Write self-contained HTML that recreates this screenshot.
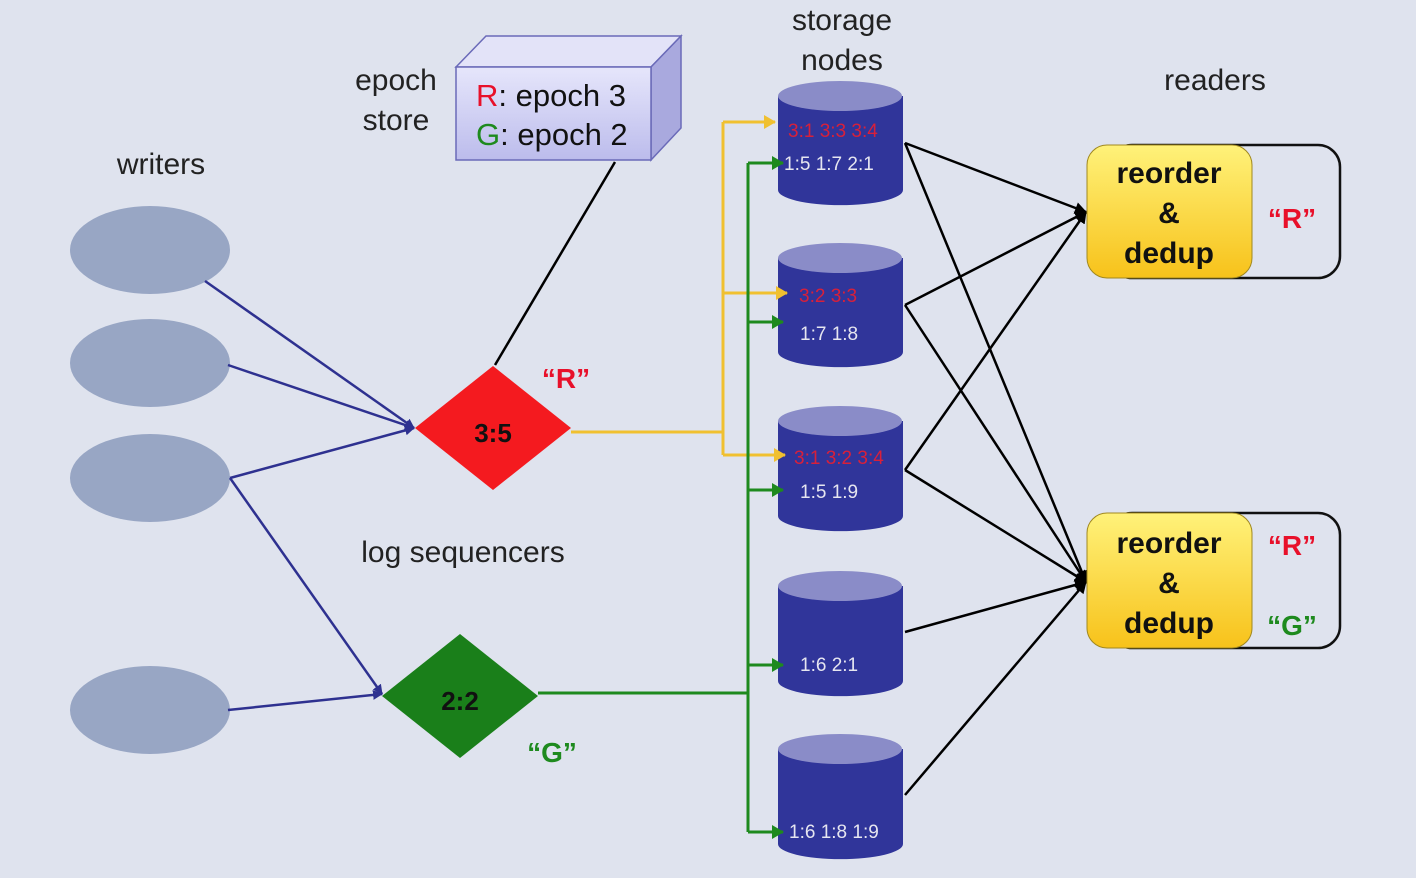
<!DOCTYPE html>
<html><head><meta charset="utf-8"><style>
html,body{margin:0;padding:0;background:#dfe3ee;}
svg{display:block;font-family:"Liberation Sans",sans-serif;}
</style></head><body>
<svg width="1416" height="878" viewBox="0 0 1416 878" xmlns="http://www.w3.org/2000/svg">
<defs>
<linearGradient id="yg" x1="0" y1="0" x2="0" y2="1"><stop offset="0" stop-color="#fff27a"/><stop offset="1" stop-color="#f7c21a"/></linearGradient>
<linearGradient id="bg" x1="0" y1="0" x2="0" y2="1"><stop offset="0" stop-color="#e6e6fb"/><stop offset="1" stop-color="#bcbcec"/></linearGradient>
<marker id="ab" markerWidth="10" markerHeight="10" refX="9" refY="5" orient="auto" markerUnits="userSpaceOnUse"><path d="M0,0 L10,5 L0,10z" fill="#2e3190"/></marker>
<marker id="ay" markerWidth="12" markerHeight="14" refX="11" refY="7" orient="auto" markerUnits="userSpaceOnUse"><path d="M0,0 L12,7 L0,14z" fill="#f0c030"/></marker>
<marker id="ag" markerWidth="12" markerHeight="14" refX="11" refY="7" orient="auto" markerUnits="userSpaceOnUse"><path d="M0,0 L12,7 L0,14z" fill="#1e8a1e"/></marker>
<marker id="ak" markerWidth="12" markerHeight="12" refX="11" refY="6" orient="auto" markerUnits="userSpaceOnUse"><path d="M0,0 L12,6 L0,12z" fill="#000"/></marker>
</defs>
<rect width="1416" height="878" fill="#dfe3ee"/>

<g font-size="30" fill="#222" text-anchor="middle">
<text x="161" y="174">writers</text>
<text x="396" y="90">epoch</text>
<text x="396" y="130">store</text>
<text x="842" y="30">storage</text>
<text x="842" y="70">nodes</text>
<text x="1215" y="90">readers</text>
<text x="463" y="562">log sequencers</text>
</g>

<g fill="#98a6c4">
<ellipse cx="150" cy="250" rx="80" ry="44"/>
<ellipse cx="150" cy="363" rx="80" ry="44"/>
<ellipse cx="150" cy="478" rx="80" ry="44"/>
<ellipse cx="150" cy="710" rx="80" ry="44"/>
</g>
<g stroke="#2e3190" stroke-width="2.5" fill="none">
<line x1="205" y1="281" x2="414" y2="428" marker-end="url(#ab)"/>
<line x1="228" y1="365" x2="414" y2="428" marker-end="url(#ab)"/>
<line x1="230" y1="478" x2="414" y2="428" marker-end="url(#ab)"/>
<line x1="230" y1="478" x2="382" y2="694" marker-end="url(#ab)"/>
<line x1="228" y1="710" x2="382" y2="694" marker-end="url(#ab)"/>
</g>

<line x1="615" y1="162" x2="495" y2="365" stroke="#000" stroke-width="2.5"/>
<polygon points="456,67 486,36 681,36 651,67" fill="#e3e3f8" stroke="#6a6ab8" stroke-width="1.5"/>
<polygon points="651,67 681,36 681,128 651,160" fill="#a9a9de" stroke="#6a6ab8" stroke-width="1.5"/>
<rect x="456" y="67" width="195" height="93" fill="url(#bg)" stroke="#6a6ab8" stroke-width="1.5"/>
<g font-size="31" fill="#111">
<text x="476" y="106"><tspan fill="#e8102a">R</tspan>: epoch 3</text>
<text x="476" y="145"><tspan fill="#1e8a1e">G</tspan>: epoch 2</text>
</g>

<polygon points="415,428 493,366 571,428 493,490" fill="#f41a1f"/>
<text x="493" y="442" font-size="26" font-weight="bold" text-anchor="middle" fill="#111">3:5</text>
<text x="566" y="388" font-size="28" font-weight="bold" text-anchor="middle" fill="#e8102a">“R”</text>
<polygon points="382,696 460,634 538,696 460,758" fill="#1a7f1a"/>
<text x="460" y="710" font-size="26" font-weight="bold" text-anchor="middle" fill="#111">2:2</text>
<text x="552" y="762" font-size="28" font-weight="bold" text-anchor="middle" fill="#1e8a1e">“G”</text>

<g stroke="#000" stroke-width="2.5" fill="none">
<line x1="905" y1="143" x2="1086" y2="212" marker-end="url(#ak)"/>
<line x1="905" y1="143" x2="1086" y2="582" marker-end="url(#ak)"/>
<line x1="905" y1="305" x2="1086" y2="212" marker-end="url(#ak)"/>
<line x1="905" y1="305" x2="1086" y2="582" marker-end="url(#ak)"/>
<line x1="905" y1="470" x2="1086" y2="212" marker-end="url(#ak)"/>
<line x1="905" y1="470" x2="1086" y2="582" marker-end="url(#ak)"/>
<line x1="905" y1="632" x2="1086" y2="582" marker-end="url(#ak)"/>
<line x1="905" y1="795" x2="1086" y2="582" marker-end="url(#ak)"/>
</g>

<g>
<path d="M778,96 L778,190 A62,15 0 0 0 903,190 L903,96z" fill="#30359a"/><ellipse cx="840" cy="96" rx="62" ry="15" fill="#8a8cc8"/>
<path d="M778,258 L778,352 A62,15 0 0 0 903,352 L903,258z" fill="#30359a"/><ellipse cx="840" cy="258" rx="62" ry="15" fill="#8a8cc8"/>
<path d="M778,421 L778,516 A62,15 0 0 0 903,516 L903,421z" fill="#30359a"/><ellipse cx="840" cy="421" rx="62" ry="15" fill="#8a8cc8"/>
<path d="M778,586 L778,681 A62,15 0 0 0 903,681 L903,586z" fill="#30359a"/><ellipse cx="840" cy="586" rx="62" ry="15" fill="#8a8cc8"/>
<path d="M778,749 L778,844 A62,15 0 0 0 903,844 L903,749z" fill="#30359a"/><ellipse cx="840" cy="749" rx="62" ry="15" fill="#8a8cc8"/>
</g>

<g stroke="#f0c030" stroke-width="3" fill="none">
<polyline points="571,432 723,432"/>
<line x1="723" y1="122" x2="723" y2="455"/>
<line x1="723" y1="122" x2="775" y2="122" marker-end="url(#ay)"/>
<line x1="723" y1="293" x2="787" y2="293" marker-end="url(#ay)"/>
<line x1="723" y1="455" x2="785" y2="455" marker-end="url(#ay)"/>
</g>
<g stroke="#1e8a1e" stroke-width="3" fill="none">
<line x1="538" y1="693" x2="748" y2="693"/>
<line x1="748" y1="163" x2="748" y2="832"/>
<line x1="748" y1="163" x2="783" y2="163" marker-end="url(#ag)"/>
<line x1="748" y1="322" x2="783" y2="322" marker-end="url(#ag)"/>
<line x1="748" y1="490" x2="783" y2="490" marker-end="url(#ag)"/>
<line x1="748" y1="665" x2="783" y2="665" marker-end="url(#ag)"/>
<line x1="748" y1="832" x2="783" y2="832" marker-end="url(#ag)"/>
</g>

<g font-size="19">
<text x="788" y="137" fill="#d8203a">3:1 3:3 3:4</text>
<text x="784" y="170" fill="#e6e6f0">1:5 1:7 2:1</text>
<text x="799" y="302" fill="#d8203a">3:2 3:3</text>
<text x="800" y="340" fill="#e6e6f0">1:7 1:8</text>
<text x="794" y="464" fill="#d8203a">3:1 3:2 3:4</text>
<text x="800" y="498" fill="#e6e6f0">1:5 1:9</text>
<text x="800" y="671" fill="#e6e6f0">1:6 2:1</text>
<text x="789" y="838" fill="#e6e6f0">1:6 1:8 1:9</text>
</g>

<rect x="1110" y="145" width="230" height="133" rx="22" fill="none" stroke="#111" stroke-width="2.5"/>
<rect x="1087" y="145" width="165" height="133" rx="20" fill="url(#yg)" stroke="#a08820" stroke-width="1"/>
<g font-size="30" font-weight="bold" text-anchor="middle" fill="#111">
<text x="1169" y="183">reorder</text><text x="1169" y="223">&amp;</text><text x="1169" y="263">dedup</text>
</g>
<text x="1292" y="228" font-size="28" font-weight="bold" text-anchor="middle" fill="#e8102a">“R”</text>

<rect x="1110" y="513" width="230" height="135" rx="22" fill="none" stroke="#111" stroke-width="2.5"/>
<rect x="1087" y="513" width="165" height="135" rx="20" fill="url(#yg)" stroke="#a08820" stroke-width="1"/>
<g font-size="30" font-weight="bold" text-anchor="middle" fill="#111">
<text x="1169" y="553">reorder</text><text x="1169" y="593">&amp;</text><text x="1169" y="633">dedup</text>
</g>
<text x="1292" y="555" font-size="28" font-weight="bold" text-anchor="middle" fill="#e8102a">“R”</text>
<text x="1292" y="635" font-size="28" font-weight="bold" text-anchor="middle" fill="#1e8a1e">“G”</text>
</svg>
</body></html>
